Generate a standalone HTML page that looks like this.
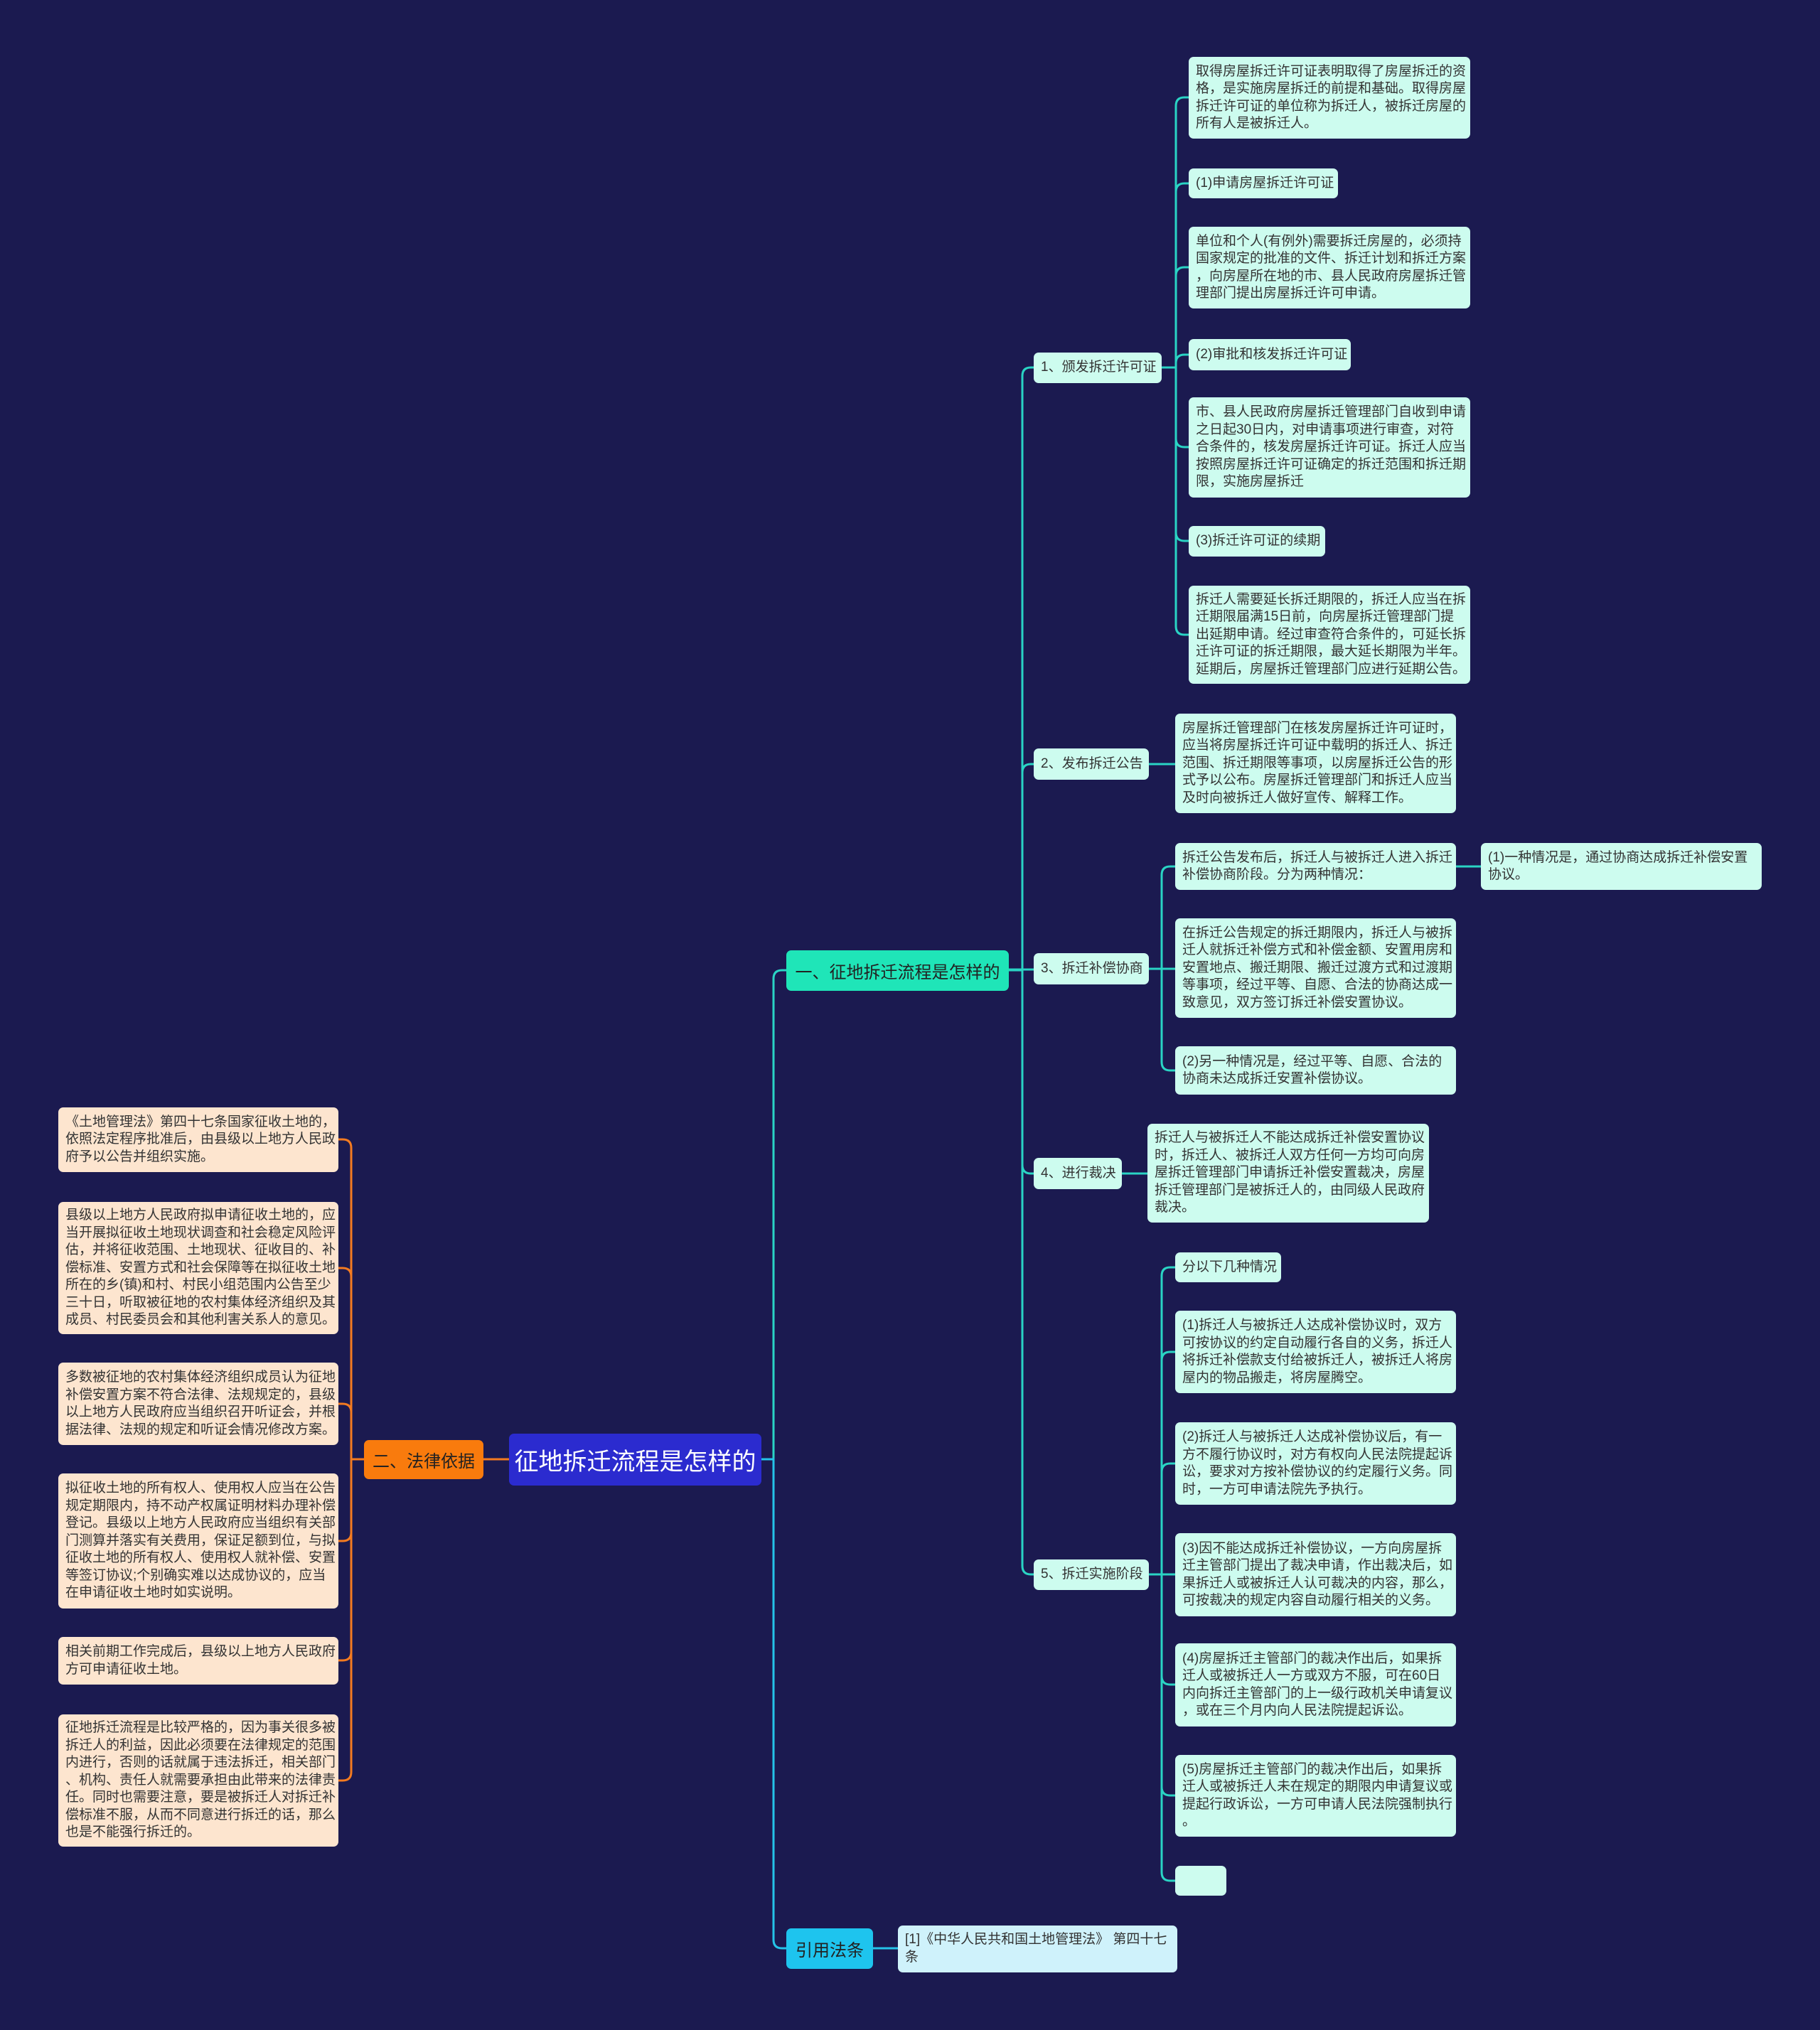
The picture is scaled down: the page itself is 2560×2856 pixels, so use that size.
<!DOCTYPE html>
<html><head><meta charset="utf-8"><style>
html,body{margin:0;padding:0;}
body{width:2560px;height:2856px;background:#1b1a50;position:relative;overflow:hidden;font-family:"Liberation Sans","Noto Sans CJK SC",sans-serif;}
.n{position:absolute;box-sizing:border-box;display:flex;align-items:center;border-radius:7px;color:#333;white-space:nowrap;}
.l{background:#cdfcef;font-size:19px;line-height:24.5px;padding:0 10px;}
.o{background:#fde5cf;font-size:19px;line-height:24.5px;padding:0 10px;}
svg{position:absolute;left:0;top:0;}
</style></head><body>
<svg width="2560" height="2856" fill="none" stroke-width="3" stroke-linecap="round">
<g stroke="#2ad4c4">
<path d="M1071 2053 H1088 V1377 Q1088 1365 1100 1365 H1106"/>
<path d="M1419 1365 H1438 V529 Q1438 517 1450 517 H1454"/>
<path d="M1419 1365 H1438 V1087 Q1438 1075 1450 1075 H1454"/>
<path d="M1419 1364 H1454"/>
<path d="M1419 1365 H1438 V1639 Q1438 1651 1450 1651 H1454"/>
<path d="M1419 1365 H1438 V2203 Q1438 2215 1450 2215 H1454"/>
<path d="M1634 517 H1654 V149 Q1654 137 1666 137 H1672"/>
<path d="M1634 517 H1654 V270 Q1654 258 1666 258 H1672"/>
<path d="M1634 517 H1654 V388 Q1654 376 1666 376 H1672"/>
<path d="M1634 517 H1654 V511 Q1654 499 1666 499 H1672"/>
<path d="M1634 517 H1654 V617 Q1654 629 1666 629 H1672"/>
<path d="M1634 517 H1654 V749 Q1654 761 1666 761 H1672"/>
<path d="M1634 517 H1654 V881 Q1654 893 1666 893 H1672"/>
<path d="M1616 1075 H1653"/>
<path d="M1616 1363 H1634 V1231 Q1634 1219 1646 1219 H1653"/>
<path d="M1616 1363 H1653"/>
<path d="M1616 1363 H1634 V1494 Q1634 1506 1646 1506 H1653"/>
<path d="M2048 1219 H2083"/>
<path d="M1578 1651 H1614"/>
<path d="M1616 2215 H1634 V1795 Q1634 1783 1646 1783 H1653"/>
<path d="M1616 2215 H1634 V1914 Q1634 1902 1646 1902 H1653"/>
<path d="M1616 2215 H1634 V2071 Q1634 2059 1646 2059 H1653"/>
<path d="M1616 2215 H1653"/>
<path d="M1616 2215 H1634 V2358 Q1634 2370 1646 2370 H1653"/>
<path d="M1616 2215 H1634 V2514 Q1634 2526 1646 2526 H1653"/>
<path d="M1616 2215 H1634 V2634 Q1634 2646 1646 2646 H1653"/>
</g>
<path stroke="#25c3e8" d="M1071 2053 H1088 V2729 Q1088 2741 1100 2741 H1106"/>
<path stroke="#25c3e8" d="M1228 2741 H1263"/>
<g stroke="#f47b20">
<path d="M716 2053 H680"/>
<path d="M512 2053 H494 V1615 Q494 1603 482 1603 H476"/>
<path d="M512 2053 H494 V1796 Q494 1784 482 1784 H476"/>
<path d="M512 2053 H494 V1987 Q494 1975 482 1975 H476"/>
<path d="M512 2053 H494 V2156 Q494 2168 482 2168 H476"/>
<path d="M512 2053 H494 V2324 Q494 2336 482 2336 H476"/>
<path d="M512 2053 H494 V2493 Q494 2505 482 2505 H476"/>
</g>
</svg>

<div class="n" style="left:716px;top:2017px;width:355px;height:73px;background:#2b2bcf;color:#fff;font-size:34px;justify-content:center;">征地拆迁流程是怎样的</div>
<div class="n" style="left:512px;top:2026px;width:168px;height:55px;background:#f97b0d;color:#222;font-size:24px;justify-content:center;">二、法律依据</div>
<div class="n" style="left:1106px;top:1337px;width:313px;height:57px;background:#1fe5b8;color:#222;font-size:24px;justify-content:center;">一、征地拆迁流程是怎样的</div>
<div class="n" style="left:1106px;top:2713px;width:122px;height:57px;background:#1ec4ee;color:#222;font-size:24px;justify-content:center;">引用法条</div>
<div class="n l" style="left:1263px;top:2709px;width:393px;height:66px;background:#cff2fb;align-items:flex-start;padding-top:8px;">[1]《中华人民共和国土地管理法》 第四十七<br>条</div>

<div class="n l" style="left:1454px;top:496px;width:180px;height:43px;">1、颁发拆迁许可证</div>
<div class="n l" style="left:1454px;top:1053px;width:162px;height:44px;">2、发布拆迁公告</div>
<div class="n l" style="left:1454px;top:1341px;width:162px;height:44px;">3、拆迁补偿协商</div>
<div class="n l" style="left:1454px;top:1629px;width:124px;height:44px;">4、进行裁决</div>
<div class="n l" style="left:1454px;top:2194px;width:162px;height:43px;">5、拆迁实施阶段</div>

<div class="n l" style="left:1672px;top:80px;width:396px;height:115px;">取得房屋拆迁许可证表明取得了房屋拆迁的资<br>格，是实施房屋拆迁的前提和基础。取得房屋<br>拆迁许可证的单位称为拆迁人，被拆迁房屋的<br>所有人是被拆迁人。</div>
<div class="n l" style="left:1672px;top:237px;width:210px;height:42px;">(1)申请房屋拆迁许可证</div>
<div class="n l" style="left:1672px;top:319px;width:396px;height:115px;">单位和个人(有例外)需要拆迁房屋的，必须持<br>国家规定的批准的文件、拆迁计划和拆迁方案<br>，向房屋所在地的市、县人民政府房屋拆迁管<br>理部门提出房屋拆迁许可申请。</div>
<div class="n l" style="left:1672px;top:477px;width:228px;height:44px;">(2)审批和核发拆迁许可证</div>
<div class="n l" style="left:1672px;top:559px;width:396px;height:141px;">市、县人民政府房屋拆迁管理部门自收到申请<br>之日起30日内，对申请事项进行审查，对符<br>合条件的，核发房屋拆迁许可证。拆迁人应当<br>按照房屋拆迁许可证确定的拆迁范围和拆迁期<br>限，实施房屋拆迁</div>
<div class="n l" style="left:1672px;top:740px;width:192px;height:43px;">(3)拆迁许可证的续期</div>
<div class="n l" style="left:1672px;top:824px;width:396px;height:138px;">拆迁人需要延长拆迁期限的，拆迁人应当在拆<br>迁期限届满15日前，向房屋拆迁管理部门提<br>出延期申请。经过审查符合条件的，可延长拆<br>迁许可证的拆迁期限，最大延长期限为半年。<br>延期后，房屋拆迁管理部门应进行延期公告。</div>

<div class="n l" style="left:1653px;top:1004px;width:395px;height:140px;">房屋拆迁管理部门在核发房屋拆迁许可证时，<br>应当将房屋拆迁许可证中载明的拆迁人、拆迁<br>范围、拆迁期限等事项，以房屋拆迁公告的形<br>式予以公布。房屋拆迁管理部门和拆迁人应当<br>及时向被拆迁人做好宣传、解释工作。</div>

<div class="n l" style="left:1653px;top:1186px;width:395px;height:66px;">拆迁公告发布后，拆迁人与被拆迁人进入拆迁<br>补偿协商阶段。分为两种情况：</div>
<div class="n l" style="left:2083px;top:1186px;width:395px;height:66px;">(1)一种情况是，通过协商达成拆迁补偿安置<br>协议。</div>
<div class="n l" style="left:1653px;top:1292px;width:395px;height:140px;">在拆迁公告规定的拆迁期限内，拆迁人与被拆<br>迁人就拆迁补偿方式和补偿金额、安置用房和<br>安置地点、搬迁期限、搬迁过渡方式和过渡期<br>等事项，经过平等、自愿、合法的协商达成一<br>致意见，双方签订拆迁补偿安置协议。</div>
<div class="n l" style="left:1653px;top:1472px;width:395px;height:68px;">(2)另一种情况是，经过平等、自愿、合法的<br>协商未达成拆迁安置补偿协议。</div>

<div class="n l" style="left:1614px;top:1581px;width:396px;height:139px;">拆迁人与被拆迁人不能达成拆迁补偿安置协议<br>时，拆迁人、被拆迁人双方任何一方均可向房<br>屋拆迁管理部门申请拆迁补偿安置裁决，房屋<br>拆迁管理部门是被拆迁人的，由同级人民政府<br>裁决。</div>

<div class="n l" style="left:1653px;top:1762px;width:149px;height:42px;">分以下几种情况</div>
<div class="n l" style="left:1653px;top:1844px;width:395px;height:116px;">(1)拆迁人与被拆迁人达成补偿协议时，双方<br>可按协议的约定自动履行各自的义务，拆迁人<br>将拆迁补偿款支付给被拆迁人，被拆迁人将房<br>屋内的物品搬走，将房屋腾空。</div>
<div class="n l" style="left:1653px;top:2001px;width:395px;height:116px;">(2)拆迁人与被拆迁人达成补偿协议后，有一<br>方不履行协议时，对方有权向人民法院提起诉<br>讼，要求对方按补偿协议的约定履行义务。同<br>时，一方可申请法院先予执行。</div>
<div class="n l" style="left:1653px;top:2157px;width:395px;height:117px;">(3)因不能达成拆迁补偿协议，一方向房屋拆<br>迁主管部门提出了裁决申请，作出裁决后，如<br>果拆迁人或被拆迁人认可裁决的内容，那么，<br>可按裁决的规定内容自动履行相关的义务。</div>
<div class="n l" style="left:1653px;top:2312px;width:395px;height:117px;">(4)房屋拆迁主管部门的裁决作出后，如果拆<br>迁人或被拆迁人一方或双方不服，可在60日<br>内向拆迁主管部门的上一级行政机关申请复议<br>，或在三个月内向人民法院提起诉讼。</div>
<div class="n l" style="left:1653px;top:2469px;width:395px;height:115px;">(5)房屋拆迁主管部门的裁决作出后，如果拆<br>迁人或被拆迁人未在规定的期限内申请复议或<br>提起行政诉讼，一方可申请人民法院强制执行<br>。</div>
<div class="n l" style="left:1653px;top:2625px;width:72px;height:42px;"></div>

<div class="n o" style="left:82px;top:1558px;width:394px;height:91px;">《土地管理法》第四十七条国家征收土地的，<br>依照法定程序批准后，由县级以上地方人民政<br>府予以公告并组织实施。</div>
<div class="n o" style="left:82px;top:1691px;width:394px;height:186px;">县级以上地方人民政府拟申请征收土地的，应<br>当开展拟征收土地现状调查和社会稳定风险评<br>估，并将征收范围、土地现状、征收目的、补<br>偿标准、安置方式和社会保障等在拟征收土地<br>所在的乡(镇)和村、村民小组范围内公告至少<br>三十日，听取被征地的农村集体经济组织及其<br>成员、村民委员会和其他利害关系人的意见。</div>
<div class="n o" style="left:82px;top:1917px;width:394px;height:116px;">多数被征地的农村集体经济组织成员认为征地<br>补偿安置方案不符合法律、法规规定的，县级<br>以上地方人民政府应当组织召开听证会，并根<br>据法律、法规的规定和听证会情况修改方案。</div>
<div class="n o" style="left:82px;top:2073px;width:394px;height:190px;">拟征收土地的所有权人、使用权人应当在公告<br>规定期限内，持不动产权属证明材料办理补偿<br>登记。县级以上地方人民政府应当组织有关部<br>门测算并落实有关费用，保证足额到位，与拟<br>征收土地的所有权人、使用权人就补偿、安置<br>等签订协议;个别确实难以达成协议的，应当<br>在申请征收土地时如实说明。</div>
<div class="n o" style="left:82px;top:2303px;width:394px;height:67px;">相关前期工作完成后，县级以上地方人民政府<br>方可申请征收土地。</div>
<div class="n o" style="left:82px;top:2412px;width:394px;height:186px;">征地拆迁流程是比较严格的，因为事关很多被<br>拆迁人的利益，因此必须要在法律规定的范围<br>内进行，否则的话就属于违法拆迁，相关部门<br>、机构、责任人就需要承担由此带来的法律责<br>任。同时也需要注意，要是被拆迁人对拆迁补<br>偿标准不服，从而不同意进行拆迁的话，那么<br>也是不能强行拆迁的。</div>
</body></html>
